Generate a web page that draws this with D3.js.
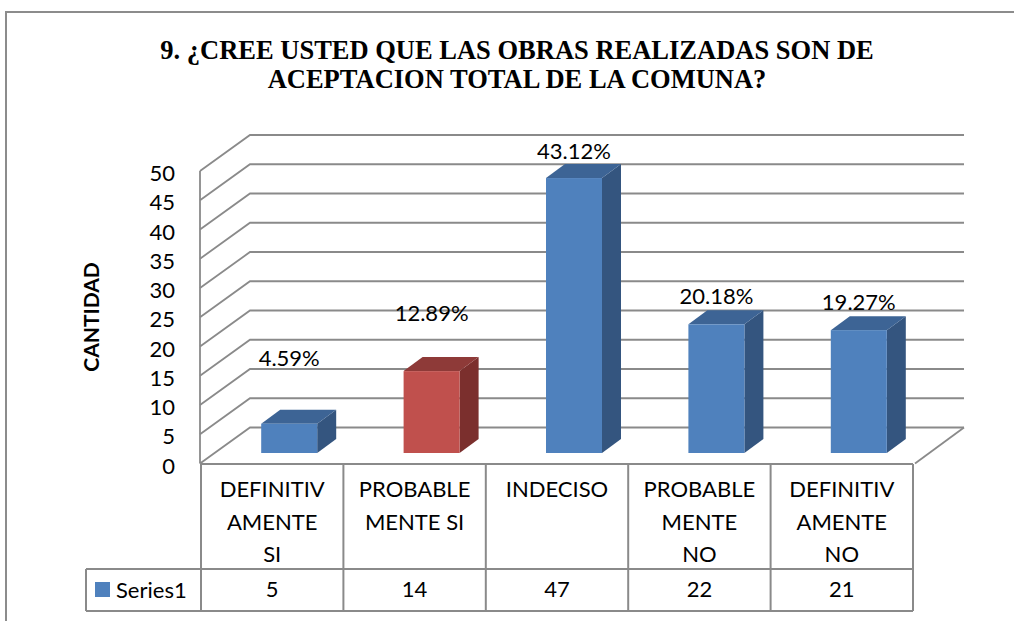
<!DOCTYPE html>
<html>
<head>
<meta charset="utf-8">
<script src="https://cdnjs.cloudflare.com/ajax/libs/d3/7.8.5/d3.min.js"></script>
<style>
  body { margin: 0; background: #fff; }
  svg { display: block; }
</style>
</head>
<body>
<div id="chart"></div>
<script>
// data
var categories = [
    ["DEFINITIV", "AMENTE", "SI"],
    ["PROBABLE", "MENTE SI"],
    ["INDECISO"],
    ["PROBABLE", "MENTE", "NO"],
    ["DEFINITIV", "AMENTE", "NO"]
];
var values = [5, 14, 47, 22, 21];
var percentLabels = ["4.59%", "12.89%", "43.12%", "20.18%", "19.27%"];
var barColors = ["blue", "red", "blue", "blue", "blue"];
var seriesName = "Series1";
var titleLines = ["9. \u00BFCREE USTED QUE LAS OBRAS REALIZADAS SON DE", "ACEPTACION TOTAL DE LA COMUNA?"];
var yTitle = "CANTIDAD";

// layout
var W = 1014, H = 621;
var plotLeft = 201, plotRight = 913;
var depth = {x: 50, y: -36};
var barOff = {x: 17, y: -10.5};
var barDepth = {x: 19, y: -14};
var barW = 56;
var labelLift = [58, 50, 19, 20, 20];
var rowTop = 464, rowMid = 569, rowBot = 611, legendLeft = 86;
var gridColor = "#8a8a8a";
var sans = "Lato, 'Open Sans', sans-serif";
var shades = {
    blue: {front: "#4f81bd", top: "#3d6495", side: "#34557f"},
    red:  {front: "#c0504d", top: "#8e3a38", side: "#7b2f2d"}
};

var svg = d3.select("#chart").append("svg")
    .attr("width", W)
    .attr("height", H);

svg.append("rect")
    .attr("x", 6)
    .attr("y", 12)
    .attr("width", W + 50)
    .attr("height", H + 50)
    .attr("fill", "#fff")
    .attr("stroke", "#8c8c8c")
    .attr("stroke-width", 2);

// title
svg.selectAll("text.title")
    .data(titleLines)
    .enter().append("text")
    .attr("class", "title")
    .text(function(d){ return d; })
    .attr("x", 517)
    .attr("y", function(d, i){ return 59 + i * 29; })
    .attr("text-anchor", "middle")
    .attr("font-family", "'Liberation Serif', 'Times New Roman', serif")
    .attr("font-weight", "bold")
    .attr("font-size", 26.5)
    .attr("fill", "#000");

var x = d3.scaleBand()
    .domain(d3.range(values.length))
    .range([plotLeft, plotRight]);

var y = d3.scaleLinear()
    .domain([0, 50])
    .range([463.5, 171]);

var ticks = y.ticks(10);

// walls: gridlines on side wall and back wall
var grid = svg.append("g");
ticks.forEach(function(t){
    var yf = y(t);
    grid.append("polyline")
        .attr("points", [
            [plotLeft - 1, yf],
            [plotLeft - 1 + depth.x, yf + depth.y],
            [plotRight + depth.x + 1, yf + depth.y]
        ].join(" "))
        .attr("fill", "none")
        .attr("stroke", gridColor)
        .attr("stroke-width", 1.8);
});

// floor right edge + front axis line
grid.append("line")
    .attr("x1", plotRight + depth.x + 1)
    .attr("y1", y(0) + depth.y)
    .attr("x2", plotRight + 2)
    .attr("y2", y(0))
    .attr("stroke", gridColor)
    .attr("stroke-width", 1.8);

grid.append("line")
    .attr("x1", plotLeft - 1)
    .attr("y1", y(50))
    .attr("x2", plotLeft - 1)
    .attr("y2", y(0))
    .attr("stroke", gridColor)
    .attr("stroke-width", 1.8);

// y tick labels
svg.selectAll("text.tick")
    .data(ticks)
    .enter().append("text")
    .attr("class", "tick")
    .text(function(d){ return d; })
    .attr("x", 175)
    .attr("y", function(d){ return y(d) + 10; })
    .attr("text-anchor", "end")
    .attr("font-family", sans)
    .attr("font-size", 22)
    .attr("fill", "#000");

svg.append("text")
    .text(yTitle)
    .attr("transform", "translate(99,317) rotate(-90)")
    .attr("text-anchor", "middle")
    .attr("font-family", sans)
    .attr("font-weight", "bold")
    .attr("font-size", 21)
    .attr("fill", "#000");

// 3d bars
var bars = svg.selectAll("g.bar")
    .data(values)
    .enter().append("g")
    .attr("class", "bar");

function bx(i){ return x(i) + x.bandwidth() / 2 - barW / 2 + barOff.x; }
function by0(){ return y(0) + barOff.y; }
function by1(v){ return y(v) + barOff.y; }

bars.append("polygon")
    .attr("points", function(d, i){
        var l = bx(i), r = l + barW, t = by1(d), b = by0();
        return [[r, t], [r + barDepth.x, t + barDepth.y], [r + barDepth.x, b + barDepth.y], [r, b]].join(" ");
    })
    .attr("fill", function(d, i){ return shades[barColors[i]].side; });

bars.append("polygon")
    .attr("points", function(d, i){
        var l = bx(i), r = l + barW, t = by1(d);
        return [[l, t], [l + barDepth.x, t + barDepth.y], [r + barDepth.x, t + barDepth.y], [r, t]].join(" ");
    })
    .attr("fill", function(d, i){ return shades[barColors[i]].top; });

bars.append("rect")
    .attr("x", function(d, i){ return bx(i); })
    .attr("y", function(d){ return by1(d); })
    .attr("width", barW)
    .attr("height", function(d){ return by0() - by1(d); })
    .attr("fill", function(d, i){ return shades[barColors[i]].front; });

bars.append("text")
    .text(function(d, i){ return percentLabels[i]; })
    .attr("x", function(d, i){ return bx(i) + barW / 2; })
    .attr("y", function(d, i){ return by1(d) - labelLift[i]; })
    .attr("text-anchor", "middle")
    .attr("font-family", sans)
    .attr("font-size", 22)
    .attr("fill", "#000");

// data table
var table = svg.append("g")
    .attr("stroke", gridColor)
    .attr("stroke-width", 2);

table.append("line")
    .attr("x1", plotLeft).attr("y1", rowTop)
    .attr("x2", plotRight).attr("y2", rowTop);
table.append("line")
    .attr("x1", legendLeft).attr("y1", rowMid)
    .attr("x2", plotRight).attr("y2", rowMid);
table.append("line")
    .attr("x1", legendLeft).attr("y1", rowBot)
    .attr("x2", plotRight).attr("y2", rowBot);
table.append("line")
    .attr("x1", legendLeft).attr("y1", rowMid)
    .attr("x2", legendLeft).attr("y2", rowBot);

d3.range(values.length + 1).forEach(function(i){
    var xx = i < values.length ? x(i) : plotRight;
    table.append("line")
        .attr("x1", xx).attr("y1", rowTop)
        .attr("x2", xx).attr("y2", rowBot);
});

var heads = svg.selectAll("text.cat")
    .data(categories)
    .enter().append("text")
    .attr("class", "cat")
    .attr("text-anchor", "middle")
    .attr("font-family", sans)
    .attr("font-size", 22)
    .attr("fill", "#000");

heads.selectAll("tspan")
    .data(function(d, i){ return d.map(function(s){ return {s: s, i: i}; }); })
    .enter().append("tspan")
    .text(function(d){ return d.s; })
    .attr("x", function(d){ return x(d.i) + x.bandwidth() / 2; })
    .attr("y", function(d, j){ return 497 + j * 32.5; });

svg.selectAll("text.val")
    .data(values)
    .enter().append("text")
    .attr("class", "val")
    .text(function(d){ return d; })
    .attr("x", function(d, i){ return x(i) + x.bandwidth() / 2; })
    .attr("y", 597)
    .attr("text-anchor", "middle")
    .attr("font-family", sans)
    .attr("font-size", 22)
    .attr("fill", "#000");

svg.append("rect")
    .attr("x", 95)
    .attr("y", 582)
    .attr("width", 15)
    .attr("height", 15)
    .attr("fill", shades.blue.front);

svg.append("text")
    .text(seriesName)
    .attr("x", 116)
    .attr("y", 598)
    .attr("font-family", sans)
    .attr("font-size", 22)
    .attr("fill", "#000");
</script>
</body>
</html>
